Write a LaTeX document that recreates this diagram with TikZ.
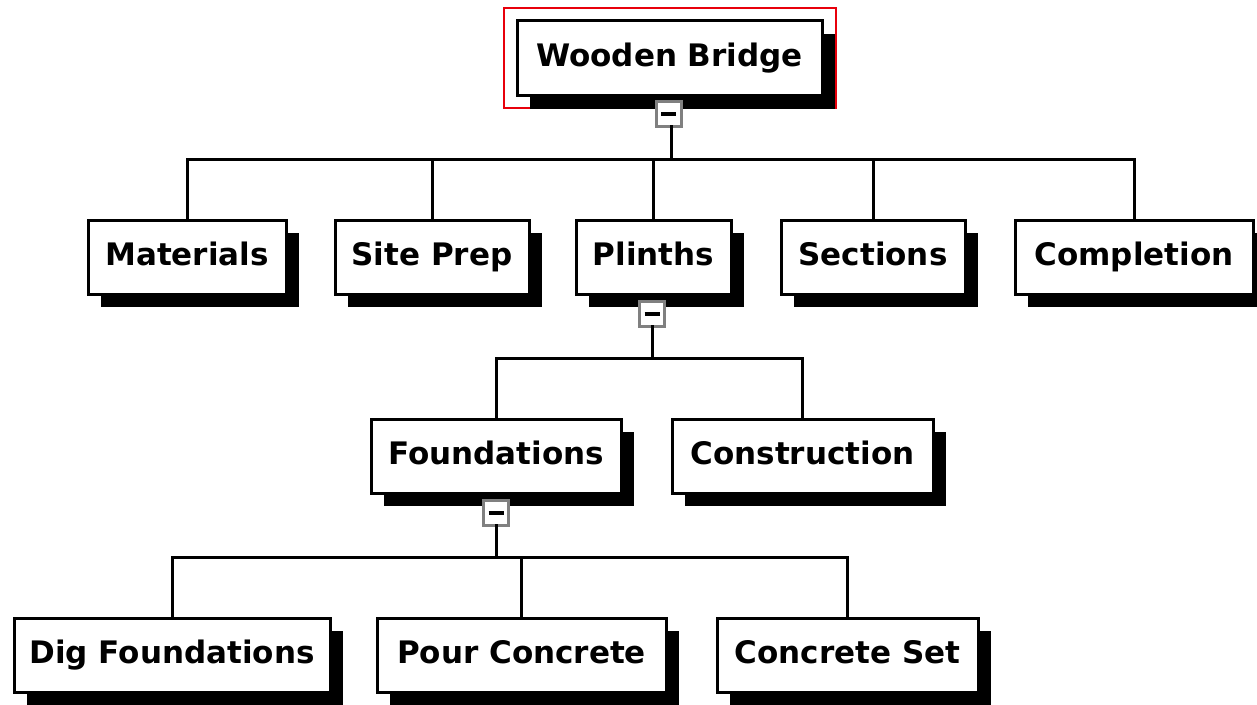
\documentclass[tikz,border=0pt]{standalone}
\usepackage{fontspec}
\setmainfont{DejaVu Sans}
\usepackage{tikz}
\usetikzlibrary{shadows}
\definecolor{selEdge}{HTML}{E8000B}
\definecolor{tglEdge}{HTML}{808080}
\tikzset{
  task/.style={draw=black, fill=white, line width=3pt, inner sep=0pt, outer sep=0pt,
        minimum height=74pt, minimum width=#1, align=center,
        text height=23pt, text depth=7pt,
        font=\fontsize{31}{33}\selectfont\bfseries,
        drop shadow={shadow xshift=13pt, shadow yshift=-13pt, opacity=1, fill=black}},
  toggle/.style={draw=tglEdge, fill=white, line width=3pt, minimum size=25pt,
        inner sep=0pt, outer sep=0pt,
        path picture={\draw[black, line width=3.5pt]
          ([xshift=-7.5pt]path picture bounding box.center) --
          ([xshift=7.5pt]path picture bounding box.center);}},
  selbox/.style={draw=selEdge, line width=2.5pt, inner sep=0pt, minimum width=332pt,
        minimum height=100pt},
  conn/.style={line width=3pt, line cap=rect},
}

\begin{document}
\begin{tikzpicture}[x=1pt, y=-1pt]
  \useasboundingbox (0,0) rectangle (1257,704);
  % selection frame behind the root
  \node[selbox] (sel) at (670,58){};
  % level 0
  \node[task=305pt, minimum height=75pt] (wb) at (669.5,58){Wooden Bridge};
  % level 1
  \node[task=198pt] (mat)  at (187,257){Materials};
  \node[task=194pt] (sp)   at (432,257){Site Prep};
  \node[task=155pt] (pl)   at (653.5,257){Plinths};
  \node[task=184pt] (sec)  at (873,257){Sections};
  \node[task=238pt] (comp) at (1134,257){Completion};
  % level 2
  \node[task=250pt] (fd) at (496,456){Foundations};
  \node[task=261pt] (cs) at (802.5,456){Construction};
  % level 3
  \node[task=316pt] (dig)  at (172,655){Dig Foundations};
  \node[task=289pt] (pour) at (521.5,655){Pour Concrete};
  \node[task=261pt] (set)  at (847.5,655){Concrete Set};
  % collapse toggles
  \node[toggle] (t0) at (668.5,114){};
  \node[toggle] (t1) at (652,314){};
  \node[toggle] (t2) at (496,513){};
  % bus junctions
  \coordinate (j0) at (671,159);
  \coordinate (j1) at (652,358);
  \coordinate (j2) at (496,557);
  \draw[conn] (t0.south -| j0) -- (j0);
  \draw[conn] (mat.north) |- (j0);
  \draw[conn] (sp.north) |- (j0);
  \draw[conn] (pl.north) |- (j0);
  \draw[conn] (sec.north) |- (j0);
  \draw[conn] (comp.north) |- (j0);
  \draw[conn] (t1.south) -- (j1);
  \draw[conn] (fd.north) |- (j1);
  \draw[conn] (cs.north) |- (j1);
  \draw[conn] (t2.south) -- (j2);
  \draw[conn] (dig.north) |- (j2);
  \draw[conn] (pour.north) |- (j2);
  \draw[conn] (set.north) |- (j2);
\end{tikzpicture}
\end{document}
